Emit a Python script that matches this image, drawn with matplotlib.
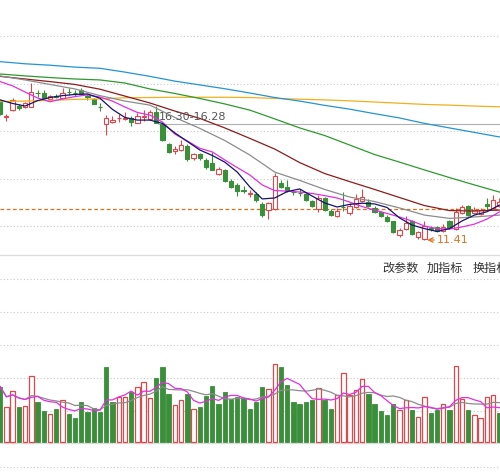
import matplotlib
matplotlib.use('Agg')
import matplotlib.pyplot as plt
from matplotlib.patches import Rectangle
import pandas as pd

# ---------------- data ----------------
opens = [17.26, 16.59, 16.88, 17.07, 17.01, 17.01, 17.60, 17.60, 17.35, 17.47,
         17.39, 17.66, 17.60, 17.73, 17.47, 17.35, 17.03, 16.29, 16.38, 16.53,
         16.51, 16.55, 16.34, 16.59, 16.51, 16.80, 16.29, 15.45, 15.14, 15.20,
         15.37, 14.88, 15.03, 14.78, 14.65, 14.21, 14.36, 13.89, 13.73, 13.52,
         13.35, 13.35, 12.93, 12.67, 12.72, 13.79, 13.64, 13.45, 13.41, 13.35,
         13.05, 12.72, 13.18, 12.63, 12.42, 12.80, 12.55, 12.80, 13.07, 13.03,
         12.76, 12.57, 12.40, 12.19, 11.62, 11.87, 12.19, 11.52, 11.47, 11.92,
         11.94, 11.77, 12.19, 11.87, 12.55, 12.84, 12.55, 12.51, 12.91, 12.76,
         12.84]
highs = [17.31, 16.72, 17.41, 17.14, 17.22, 18.02, 17.71, 17.71, 17.52, 17.56,
         17.81, 17.79, 17.73, 17.83, 17.54, 17.39, 17.18, 16.67, 16.65, 16.72,
         16.82, 16.63, 16.76, 16.88, 16.88, 17.05, 16.34, 15.49, 15.35, 15.64,
         15.45, 15.09, 15.09, 14.86, 15.12, 14.48, 14.40, 13.98, 13.81, 13.68,
         13.52, 13.45, 13.01, 13.03, 14.25, 13.94, 13.92, 13.52, 13.56, 13.39,
         13.09, 13.31, 13.22, 12.72, 12.74, 13.45, 12.97, 13.35, 13.55, 13.14,
         12.84, 12.63, 12.46, 12.23, 11.92, 12.42, 12.25, 11.81, 12.19, 12.00,
         12.00, 12.08, 12.25, 12.74, 12.88, 12.88, 12.80, 12.76, 13.18, 13.31,
         13.18]
lows = [16.67, 16.42, 16.86, 16.88, 16.97, 16.99, 17.43, 17.37, 17.33, 17.37,
        17.35, 17.52, 17.47, 17.52, 17.31, 17.12, 16.84, 15.83, 16.34, 16.40,
        16.46, 16.23, 16.32, 16.42, 16.46, 16.32, 15.58, 15.07, 15.05, 15.16,
        14.74, 14.76, 14.76, 14.40, 14.34, 14.15, 13.85, 13.60, 13.26, 13.37,
        13.22, 13.03, 12.38, 12.29, 12.67, 13.60, 13.43, 13.31, 13.26, 13.05,
        12.80, 12.59, 12.63, 12.42, 12.36, 12.65, 12.46, 12.76, 13.01, 12.82,
        12.55, 12.38, 12.15, 11.71, 11.52, 11.83, 11.64, 11.45, 11.41, 11.79,
        11.75, 11.75, 11.87, 11.83, 12.51, 12.42, 12.51, 12.46, 12.67, 12.72,
        12.80]
closes = [16.72, 16.63, 17.31, 16.97, 17.16, 17.64, 17.58, 17.39, 17.47, 17.45,
          17.62, 17.64, 17.58, 17.56, 17.43, 17.14, 17.01, 16.55, 16.46, 16.55,
          16.53, 16.40, 16.63, 16.63, 16.78, 16.34, 15.62, 15.12, 15.26, 15.39,
          14.82, 15.03, 14.86, 14.48, 14.36, 14.40, 13.89, 13.64, 13.47, 13.47,
          13.39, 13.09, 12.46, 12.97, 14.11, 13.64, 13.47, 13.43, 13.37, 13.09,
          12.84, 13.18, 12.67, 12.46, 12.64, 12.78, 12.84, 13.12, 13.23, 12.86,
          12.57, 12.42, 12.19, 11.73, 11.83, 12.11, 11.66, 11.73, 11.98, 11.87,
          11.77, 11.96, 11.92, 12.59, 12.80, 12.46, 12.69, 12.67, 12.86, 13.09,
          13.01]
volumes = [8.4, 5.3, 7.7, 5.3, 5.5, 10.0, 6.1, 4.7, 4.2, 5.0,
           6.4, 4.3, 3.7, 6.0, 4.6, 5.2, 4.6, 11.4, 6.1, 6.8,
           6.8, 7.5, 8.3, 9.1, 6.7, 9.7, 11.4, 7.3, 5.6, 6.4,
           7.2, 5.0, 5.3, 6.9, 8.5, 5.8, 7.6, 6.5, 6.8, 6.7,
           5.0, 6.0, 8.4, 8.0, 11.8, 11.3, 8.7, 6.1, 5.7, 6.0,
           6.3, 8.2, 6.3, 5.0, 7.1, 10.5, 7.1, 7.9, 9.5, 7.2,
           5.8, 4.7, 4.1, 5.8, 4.9, 6.4, 4.9, 3.8, 6.8, 4.4,
           4.9, 5.8, 4.9, 11.5, 6.5, 4.9, 4.1, 3.6, 6.8, 7.1,
           4.4]
vol_up = [0, 1, 1, 0, 1, 1, 0, 0, 1, 0,
          1, 0, 0, 0, 0, 0, 0, 0, 0, 1,
          1, 0, 1, 1, 1, 0, 0, 0, 1, 1,
          0, 1, 0, 0, 0, 0, 0, 0, 0, 0,
          0, 0, 0, 1, 1, 0, 0, 0, 0, 0,
          0, 1, 0, 0, 1, 1, 1, 1, 1, 0,
          0, 0, 0, 0, 1, 1, 0, 1, 1, 0,
          0, 1, 0, 1, 1, 0, 1, 1, 1, 1,
          0]

ma_long_idx = list(range(0, 81, 4))
ma20 = [18.32, 18.15, 17.96, 17.77, 17.49, 17.26, 17.09, 16.57, 16.11, 15.60, 14.99,
        14.27, 13.92, 13.54, 13.22, 13.03, 12.76, 12.46, 12.32, 12.38, 12.46]
ma30 = [18.30, 18.19, 18.08, 17.96, 17.76, 17.47, 17.18, 16.84, 16.53, 16.13, 15.69,
        15.24, 14.67, 14.21, 13.87, 13.54, 13.20, 12.86, 12.65, 12.63, 12.67]
ma60 = [18.40, 18.32, 18.25, 18.19, 18.15, 18.02, 17.77, 17.58, 17.37, 17.14, 16.88,
        16.51, 16.13, 15.81, 15.41, 15.01, 14.69, 14.36, 14.04, 13.73, 13.43]
ma120 = [18.92, 18.83, 18.77, 18.69, 18.64, 18.48, 18.30, 18.10, 17.94, 17.78, 17.60,
         17.41, 17.26, 17.08, 16.92, 16.73, 16.55, 16.32, 16.13, 15.94, 15.75]
ma250 = [17.24, 17.26, 17.29, 17.33, 17.35, 17.40, 17.41, 17.42, 17.42, 17.42, 17.41,
         17.37, 17.34, 17.31, 17.27, 17.22, 17.17, 17.12, 17.09, 17.05, 17.02]
ma_short_idx = list(range(0, 81, 2))
ma5 = [17.31, 17.16, 17.05, 17.28, 17.41, 17.49, 17.54, 17.56, 17.38, 16.91,
       16.57, 16.46, 16.46, 16.32, 15.92, 15.56, 15.20, 14.97, 14.69, 14.27,
       13.65, 13.14, 13.18, 13.45, 13.56, 13.26, 12.97, 12.80, 12.91, 12.96,
       12.93, 12.78, 12.34, 12.04, 11.89, 11.77, 11.89, 12.21, 12.46, 12.60,
       12.88]
ma10 = [18.08, 17.90, 17.64, 17.39, 17.23, 17.35, 17.45, 17.52, 17.43, 17.26,
        17.01, 16.78, 16.67, 16.38, 15.87, 15.58, 15.27, 15.12, 14.78, 14.46,
        14.15, 13.73, 13.49, 13.47, 13.43, 13.37, 13.28, 13.18, 13.01, 12.82,
        12.67, 12.53, 12.38, 12.21, 12.00, 11.89, 11.87, 11.96, 12.08, 12.29,
        12.59]

grid_prices = [20, 18, 16, 14, 12]
ref_price = 12.72
mark_price = 16.29
mark_label = '16.30-16.28'
mark_start = 25.3
low_idx = 68
low_price = 11.41
vol_grid = [24.7, 19.7, 14.7, 9.7, 4.7, -3.8]
menu_labels = ['改参数', '加指标', '换指标']

# ---------------- style ----------------
RED = '#e0474c'
GREEN = '#3a8f3a'
C_MA5 = '#14146e'
C_MA10 = '#e22fe2'
C_MA20 = '#8c8c8c'
C_MA30 = '#8e1b1b'
C_MA60 = '#2e9a2e'
C_MA120 = '#2394d6'
C_MA250 = '#f2b01c'
GRID = '#c9c9c9'
ORANGE = '#e0701e'

W, H = 500, 474
fig = plt.figure(figsize=(W / 100, H / 100), dpi=100)
fig.patch.set_facecolor('white')

n = len(closes)
xmin, xmax = -0.02, 80.1

# main price panel: pixel rows 0..255
ax = fig.add_axes([0, 1 - 255 / H, 1, 255 / H])
ax.set_xlim(xmin, xmax)
ax.set_ylim(10.779, 21.516)
for s in ['top', 'left', 'right']:
    ax.spines[s].set_visible(False)
ax.spines['bottom'].set_color('#dcdcdc')
ax.spines['bottom'].set_linewidth(1.0)
ax.set_xticks([])
ax.set_yticks([])

for gp in grid_prices:
    ax.axhline(gp, color=GRID, lw=0.8, ls=(0, (1, 2)), zorder=0)
ax.axhline(ref_price, color=ORANGE, lw=0.9, ls=(0, (3, 2)), zorder=1)
ax.hlines(mark_price, mark_start, xmax, color='#b0b0b0', lw=0.8, zorder=1)

bw = 0.68
for i in range(n):
    o, h, l, c = opens[i], highs[i], lows[i], closes[i]
    top, bot = max(o, c), min(o, c)
    bh = max(top - bot, 0.01)
    if c >= o:
        ax.vlines(i, top, h, color=RED, lw=0.8, zorder=2)
        ax.vlines(i, l, bot, color=RED, lw=0.8, zorder=2)
        ax.add_patch(Rectangle((i - bw / 2, bot), bw, bh, facecolor='white',
                               edgecolor=RED, lw=0.8, zorder=2))
    else:
        ax.vlines(i, l, h, color=GREEN, lw=0.8, zorder=2)
        ax.add_patch(Rectangle((i - bw / 2, bot), bw, bh, facecolor=GREEN,
                               edgecolor=GREEN, lw=0.8, zorder=2))

for vals, col in [(ma250, C_MA250), (ma120, C_MA120), (ma60, C_MA60),
                  (ma30, C_MA30), (ma20, C_MA20)]:
    ax.plot(ma_long_idx, vals, color=col, lw=0.9, zorder=3)
ax.plot(ma_short_idx, ma10, color=C_MA10, lw=0.9, zorder=3)
ax.plot(ma_short_idx, ma5, color=C_MA5, lw=0.9, zorder=3)

ax.text(mark_start + 0.2, 16.59, mark_label, fontsize=8, color='#555555',
        ha='left', va='center', zorder=4)
ax.annotate(f'{low_price:.2f}', xy=(low_idx + 0.45, low_price),
            xytext=(low_idx + 2.0, low_price), fontsize=8, color=ORANGE,
            ha='left', va='center', zorder=4,
            arrowprops=dict(arrowstyle='->', color=ORANGE, lw=0.9,
                            shrinkA=0, shrinkB=0))

# volume panel: pixel rows 255..474
vax = fig.add_axes([0, 0, 1, (H - 255) / H])
vax.set_xlim(xmin, xmax)
vax.set_ylim(-4.85, 28.33)
for s in vax.spines.values():
    s.set_visible(False)
vax.set_xticks([])
vax.set_yticks([])
vax.patch.set_alpha(0)
for gv in vol_grid:
    vax.axhline(gv, color=GRID, lw=0.8, ls=(0, (1, 2)), zorder=0)
vax.axhline(-0.15, color='#dcdcdc', lw=1.0, zorder=0)

vw = 0.7
for i in range(n):
    if vol_up[i]:
        vax.add_patch(Rectangle((i - vw / 2, 0), vw, volumes[i], facecolor='white',
                                edgecolor=RED, lw=0.9, zorder=2))
    else:
        vax.add_patch(Rectangle((i - vw / 2, 0), vw, volumes[i], facecolor=GREEN,
                                edgecolor=GREEN, lw=0.6, zorder=2))

vs = pd.Series(volumes)
vax.plot(range(n), vs.rolling(10, min_periods=1).mean(), color='#8c8c8c', lw=0.9, zorder=3)
vax.plot(range(n), vs.rolling(5, min_periods=1).mean(), color=C_MA10, lw=0.9, zorder=3)

# menu texts
xs = [382, 427, 473]
for xp, lab in zip(xs, menu_labels):
    fig.text(xp / W, 1 - 268 / H, lab, fontsize=8.7, color='#333333',
             family=['Noto Sans CJK SC', 'DejaVu Sans'], ha='left', va='center')

fig.savefig('out.png', dpi=100, facecolor='white')
